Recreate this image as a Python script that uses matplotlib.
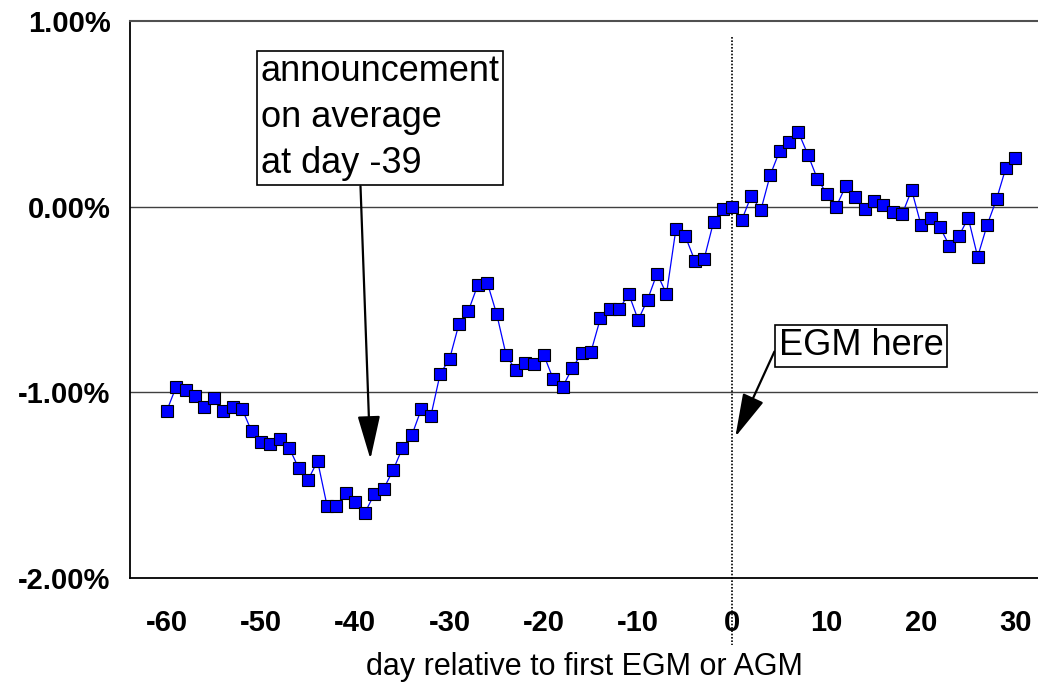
"""
Cumulative abnormal return around the first EGM / AGM, days -60 to +30.

Writes out.png.
"""
import matplotlib

matplotlib.use("Agg")
import matplotlib.pyplot as plt
from matplotlib.ticker import FuncFormatter

plt.rcParams["font.family"] = ["Liberation Sans", "DejaVu Sans"]
plt.rcParams["axes.unicode_minus"] = False

# event days and cumulative abnormal return (percent)
days = list(range(-60, 31))
car_pct = [
    -1.10, -0.97, -0.99, -1.02, -1.08, -1.03, -1.10, -1.08, -1.09, -1.21,  # -60 .. -51
    -1.27, -1.28, -1.25, -1.30, -1.41, -1.47, -1.37, -1.61, -1.61, -1.54,  # -50 .. -41
    -1.59, -1.65, -1.55, -1.52, -1.42, -1.30, -1.23, -1.09, -1.13, -0.90,  # -40 .. -31
    -0.82, -0.63, -0.56, -0.42, -0.41, -0.58, -0.80, -0.88, -0.84, -0.85,  # -30 .. -21
    -0.80, -0.93, -0.97, -0.87, -0.79, -0.78, -0.60, -0.55, -0.55, -0.47,  # -20 .. -11
    -0.61, -0.50, -0.36, -0.47, -0.12, -0.16, -0.29, -0.28, -0.08, -0.01,  # -10 .. -1
    0.00,                                                                  # 0
    -0.07, 0.06, -0.02, 0.17, 0.30, 0.35, 0.40, 0.28, 0.15, 0.07,          # 1 .. 10
    0.00, 0.11, 0.05, -0.01, 0.03, 0.01, -0.03, -0.04, 0.09, -0.10,        # 11 .. 20
    -0.06, -0.11, -0.21, -0.16, -0.06, -0.27, -0.10, 0.04, 0.21, 0.26,     # 21 .. 30
]

x_ticks = [-60, -50, -40, -30, -20, -10, 0, 10, 20, 30]
y_ticks = [1.0, 0.0, -1.0, -2.0]

announce_text = "announcement\non average\nat day -39"
egm_text = "EGM here"

fig = plt.figure(figsize=(10.38, 6.85), dpi=100)
ax = fig.add_axes([0.1252, 0.1562, 0.8748, 0.8131])

ax.set_xlim(-63.9, 32.4)
ax.set_ylim(-2.0, 1.0)

# reference lines at 0% and -1%
for yv in (0.0, -1.0):
    ax.axhline(yv, color="#404040", lw=1.0, zorder=1)

# event day marker, runs down past the axis
ax.plot([0, 0], [0.915, -2.36], color="black", lw=1.2,
        linestyle=(0, (1, 1)), clip_on=False, zorder=2)

ax.plot(days, car_pct, color="#0000ff", lw=0.9, marker="s", markersize=8,
        markerfacecolor="#0000ff", markeredgecolor="black",
        markeredgewidth=0.8, zorder=3)

ax.set_xticks(x_ticks)
ax.set_yticks(y_ticks)
ax.yaxis.set_major_formatter(FuncFormatter(lambda v, _: f"{v:.2f}%"))
ax.tick_params(axis="both", length=0, labelsize=21)
ax.tick_params(axis="x", pad=22)
ax.tick_params(axis="y", pad=14)
for lbl in ax.get_xticklabels() + ax.get_yticklabels():
    lbl.set_fontweight("bold")

ax.set_xlabel("day relative to first EGM or AGM", fontsize=22, labelpad=11)

ax.spines["right"].set_visible(False)
ax.spines["top"].set_color("#505050")
ax.spines["top"].set_linewidth(1.5)
for side in ("left", "bottom"):
    ax.spines[side].set_linewidth(1.3)

box = dict(boxstyle="square,pad=0.1", facecolor="white", edgecolor="black", lw=1.2)
arrow = dict(arrowstyle="-|>,head_length=2.7,head_width=0.7",
             color="black", lw=1.6, shrinkA=0, shrinkB=0)

ax.text(-50.05, 0.82, announce_text, fontsize=26, ha="left", va="top",
        linespacing=1.4, bbox=box, zorder=5)
ax.annotate("", xy=(-38.4, -1.36), xytext=(-39.45, 0.11),
            arrowprops=arrow, zorder=4)

ax.text(4.9, -0.75, egm_text, fontsize=26, ha="left", va="center",
        bbox=box, zorder=5)
ax.annotate("", xy=(0.3, -1.24), xytext=(4.45, -0.78),
            arrowprops=arrow, zorder=4)

fig.savefig("out.png", dpi=100)
